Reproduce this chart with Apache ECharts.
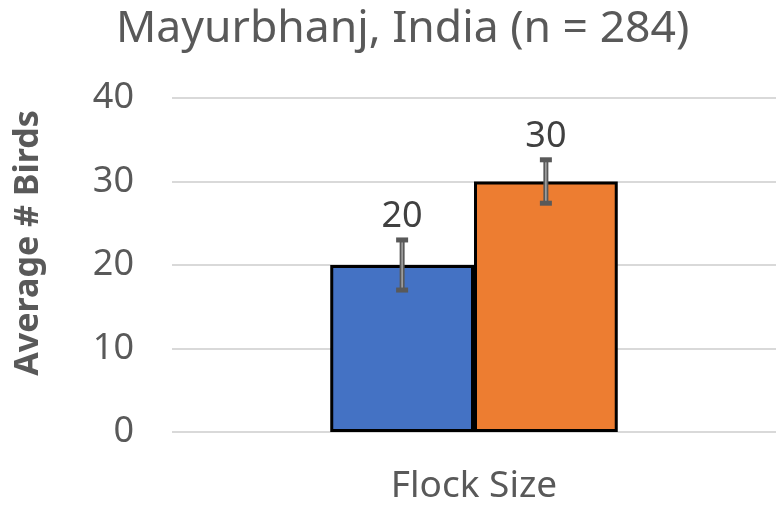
<!DOCTYPE html>
<html><head><meta charset="utf-8">
<script src="https://cdn.jsdelivr.net/npm/echarts@6/dist/echarts.min.js"></script>
<style>html,body{margin:0;padding:0;background:#fff}#c{width:776px;height:508px}</style>
</head><body><div id="c"></div>
<script>
var categories = ['Flock Size'];
var seriesNames = ['Small', 'Large'];
var values = [20, 30];
var errors = [3, 2.6];
var colors = ['#4472C4', '#ED7D31'];
var yTicks = {min: 0, max: 40, interval: 10};

var BAR_FRAC = 0.238;
var chart = echarts.init(document.getElementById('c'));
var font = 'Noto Sans';
var series = [];
values.forEach(function (v, i) {
  series.push({
    name: seriesNames[i], type: 'bar', data: [v],
    barWidth: (BAR_FRAC * 100) + '%', barGap: '0%',
    itemStyle: {color: colors[i], borderColor: '#000', borderWidth: 3},
    z: 2
  });
});
series.push({
  type: 'custom',
  z: 5,
  data: values.map(function (v, i) { return [0, v, errors[i], i]; }),
  renderItem: function (params, api) {
    var cat = api.value(0), v = api.value(1), e = api.value(2), idx = api.value(3);
    var band = api.size([1, 0])[0];
    var bw = band * BAR_FRAC;
    var c = api.coord([cat, v]);
    var x = c[0] + (idx - (values.length - 1) / 2) * bw;
    var top = api.coord([cat, v + e])[1];
    var bot = api.coord([cat, v - e])[1];
    return {
      type: 'group',
      children: [
        {type: 'line', shape: {x1: x, y1: top, x2: x, y2: bot}, style: {stroke: '#595959', lineWidth: 5}},
        {type: 'line', shape: {x1: x, y1: top, x2: x, y2: bot}, style: {stroke: '#a6a6a6', lineWidth: 1.5}},
        {type: 'rect', shape: {x: x - 6, y: top - 2.5, width: 12, height: 5}, style: {fill: '#595959'}},
        {type: 'rect', shape: {x: x - 6, y: bot - 2.5, width: 12, height: 5}, style: {fill: '#595959'}},
        {type: 'text', x: x, y: top - 5, style: {text: String(v), fill: '#404040', font: '36px "Noto Sans"', align: 'center', verticalAlign: 'bottom'}}
      ]
    };
  }
});
chart.setOption({
  animation: false,
  title: {text: 'Mayurbhanj, India (n = 284)', left: 111, top: 2,
    textStyle: {fontFamily: font, fontSize: 44.5, fontWeight: 'normal', color: '#595959'}},
  grid: {left: 172, right: 0, top: 98, bottom: 76},
  xAxis: {type: 'category', data: categories,
    axisLine: {show: false}, axisTick: {show: false},
    axisLabel: {fontFamily: font, fontSize: 37, color: '#595959', margin: 36}},
  yAxis: {type: 'value', min: yTicks.min, max: yTicks.max, interval: yTicks.interval,
    name: 'Average # Birds', nameLocation: 'middle', nameRotate: 90, nameGap: 127,
    nameTextStyle: {fontFamily: font, fontSize: 34, fontWeight: 'bold', color: '#595959', padding: [0, 0, 0, 44]},
    axisLine: {show: false}, axisTick: {show: false},
    axisLabel: {fontFamily: font, fontSize: 36, color: '#595959', margin: 38},
    splitLine: {lineStyle: {color: '#d9d9d9', width: 2}}},
  series: series
});
</script></body></html>
